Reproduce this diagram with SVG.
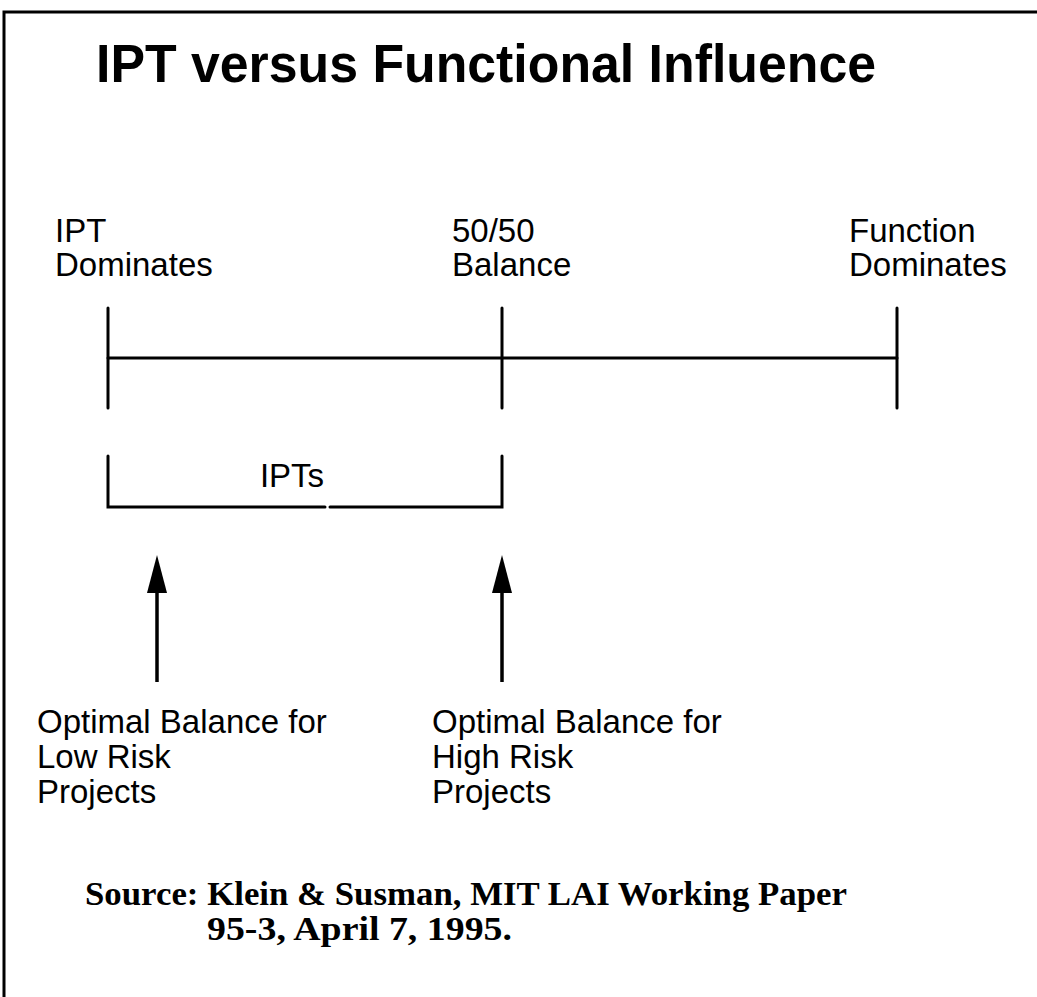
<svg xmlns="http://www.w3.org/2000/svg" width="1037" height="997" viewBox="0 0 1037 997">
  <style>
    .frame { fill: none; stroke: #000; stroke-width: 3; }
    .rule { stroke: #000; stroke-width: 3; fill: none; stroke-linecap: round; }
    .shaft { stroke: #000; stroke-width: 3.5; fill: none; }
    .title { font-family: "Liberation Sans", Arial, sans-serif; font-weight: bold; font-size: 53px; fill: #000; }
    .label { font-family: "Liberation Sans", Arial, sans-serif; font-size: 33px; fill: #000; }
    .source { font-family: "Liberation Serif", "Times New Roman", serif; font-weight: bold; font-size: 34px; fill: #000; }
  </style>
  <defs>
    <!-- solid triangular head, tip 20 units past the shaft end -->
    <marker id="head" markerWidth="38" markerHeight="20" refX="18" refY="10" orient="auto" markerUnits="userSpaceOnUse" viewBox="0 0 38 20">
      <path d="M0 0 L38 10 L0 20 Z" fill="#000"/>
    </marker>
  </defs>
  <rect width="1037" height="997" fill="#fff"/>

  <!-- page frame -->
  <path class="frame" d="M4 997 V12 H1037"/>

  <text class="title" x="96" y="82" textLength="780" lengthAdjust="spacingAndGlyphs">IPT versus Functional Influence</text>

  <!-- scale end labels -->
  <g id="ipt-dominates">
    <text class="label" x="55" y="242">IPT</text>
    <text class="label" x="55" y="276">Dominates</text>
  </g>
  <g id="balance">
    <text class="label" x="452" y="242">50/50</text>
    <text class="label" x="452" y="276">Balance</text>
  </g>
  <g id="function-dominates">
    <text class="label" x="849" y="242">Function</text>
    <text class="label" x="849" y="276">Dominates</text>
  </g>

  <!-- influence axis -->
  <g id="axis">
    <line class="rule" x1="108" y1="358" x2="897" y2="358"/>
    <line class="rule" x1="108" y1="308" x2="108" y2="408"/>
    <line class="rule" x1="502" y1="308" x2="502" y2="408"/>
    <line class="rule" x1="897" y1="308" x2="897" y2="408"/>
  </g>

  <!-- IPT range bracket -->
  <g id="ipts">
    <path class="rule" d="M108 456 V507 H325"/>
    <path class="rule" d="M330 507 H502 V456"/>
    <text class="label" x="292" y="487" text-anchor="middle">IPTs</text>
  </g>

  <g id="connectors">
    <line class="shaft" x1="157" y1="682" x2="157" y2="575" marker-end="url(#head)"/>
    <line class="shaft" x1="502" y1="682" x2="502" y2="575" marker-end="url(#head)"/>
  </g>

  <g id="low-risk">
    <text class="label" x="37" y="733">Optimal Balance for</text>
    <text class="label" x="37" y="768">Low Risk</text>
    <text class="label" x="37" y="803">Projects</text>
  </g>
  <g id="high-risk">
    <text class="label" x="432" y="733">Optimal Balance for</text>
    <text class="label" x="432" y="768">High Risk</text>
    <text class="label" x="432" y="803">Projects</text>
  </g>

  <g id="source">
    <text class="source" x="85" y="905" textLength="762" lengthAdjust="spacingAndGlyphs">Source: Klein &amp; Susman, MIT LAI Working Paper</text>
    <text class="source" x="207" y="940" textLength="305" lengthAdjust="spacingAndGlyphs">95-3, April 7, 1995.</text>
  </g>
</svg>
